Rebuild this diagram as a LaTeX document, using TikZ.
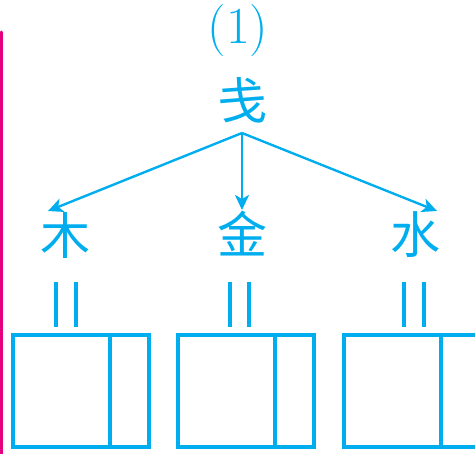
\documentclass[tikz,border=0pt]{standalone}
\usepackage{fontspec}
\newfontfamily\cjk{Noto Sans CJK SC}
\usetikzlibrary{arrows.meta}
\definecolor{cy}{HTML}{00AEEF}
\definecolor{mg}{HTML}{E4007F}
\tikzset{
  zi/.style={text=cy, font=\cjk\fontsize{50}{52}\selectfont, inner sep=0pt},
  num/.style={text=cy, font=\fontsize{52}{56}\selectfont, inner sep=0pt},
  arr/.style={draw=cy, line width=2.4pt, -{Stealth[length=15pt,width=14pt,inset=4pt]}},
  eq/.style={draw=cy, line width=4pt},
  box/.style={draw=cy, line width=3.6pt},
  bar/.style={draw=mg, line width=3pt, line cap=round}
}
\begin{document}
\begin{tikzpicture}[x=1pt,y=-1pt]
\useasboundingbox (0,0) rectangle (475,454);
\clip (0,0) rectangle (475,454);
% pink margin line
\draw[bar] (1,32) -- (1,460);
% title and root
\node[num] (n) at (238,31) {(1)};
\node[zi] (root) at (242,100) {戋};
\coordinate (r) at (242,133);
% children
\node[zi] (mu) at (66,236) {木};
\node[zi] (jin) at (242,234) {金};
\node[zi] (shui) at (415,235) {水};
\coordinate (t1) at (48,211);
\coordinate (t2) at (242,210);
\coordinate (t3) at (437,211);
\draw[arr] (r) -- (t1);
\draw[arr] (r) -- (t2);
\draw[arr] (r) -- (t3);
% equals bars
\foreach \x/\nm in {56/a,76/b,230/c,249/d,404/e,424/f}{
  \coordinate (\nm1) at (\x,282);
  \coordinate (\nm2) at (\x,327);
  \draw[eq] (\nm1) -- (\nm2);
}
% boxes
\foreach \x/\nm in {13/L,178/M,344/R}{
  \coordinate (\nm a) at (\x,335);
  \coordinate (\nm b) at (\x+136,447);
  \draw[box] (\nm a) rectangle (\nm b);
  \coordinate (\nm c) at (\x+97,335);
  \coordinate (\nm d) at (\x+97,447);
  \draw[box] (\nm c) -- (\nm d);
}
\end{tikzpicture}
\end{document}
